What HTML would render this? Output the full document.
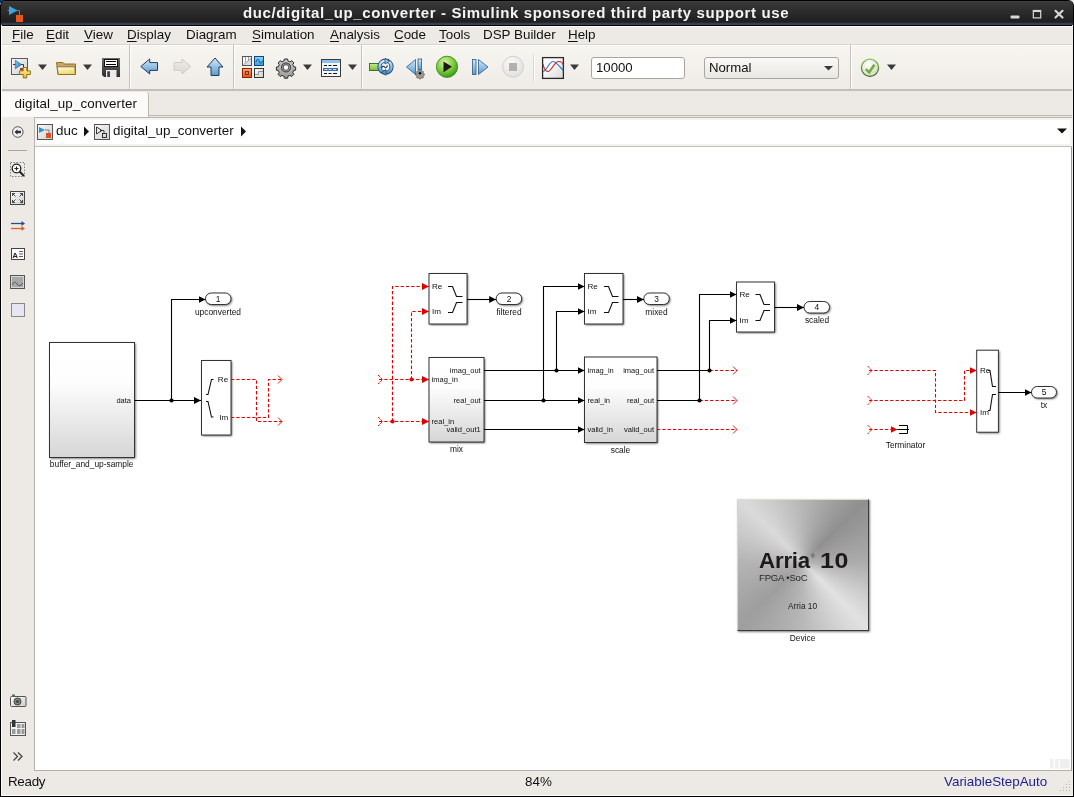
<!DOCTYPE html>
<html><head><meta charset="utf-8">
<style>
*{margin:0;padding:0;box-sizing:border-box}
html,body{width:1074px;height:797px;overflow:hidden;background:#0b0b0b;font-family:"Liberation Sans",sans-serif}
.abs{position:absolute}
#win{position:absolute;left:0;top:0;width:1074px;height:797px;background:#0b0b0b;overflow:hidden;will-change:transform}
#title{left:0;top:0;width:1074px;height:25px;background:linear-gradient(#000 0,#000 1px,#454545 1px,#383838 2px,#303030 35%,#1e1e1e 88%,#3a4a5c 96%,#33414f 100%);border-radius:6px 6px 0 0;border-right:1px solid #000;border-left:1px solid #000;color:#f4f4f4;font-weight:bold;font-size:15px;letter-spacing:0.62px;line-height:25px;white-space:nowrap}
#title span{position:absolute;left:242px;top:0}
#menubar{left:1px;top:26px;width:1071px;height:19px;background:#edeae5;font-size:13.4px;color:#111;border-top:1px solid #fbfaf8;border-bottom:1px solid #d8d5d0}
#menubar span{position:absolute;top:0px;margin-left:1px}
#menubar u{text-decoration:underline;text-underline-offset:2px;text-decoration-thickness:1px}
#toolbar{left:1px;top:45px;width:1071px;height:46px;background:linear-gradient(#f7f5f0,#efece7);border-top:1px solid #fff;border-bottom:2px solid #c2beb9}
.sep{position:absolute;top:-1px;width:2px;height:44px;background:#c4c1bc;border-right:1px solid #fff}
#tabrow{left:1px;top:91px;width:1071px;height:26px;background:#edeae5}
#tabline{left:149px;top:115px;width:923px;height:1px;background:#bcb9b4}
#tab{left:1px;top:1px;width:147px;height:25px;background:#fbfaf8;border-right:1px solid #b9b6b1;border-radius:0 3px 0 0;font-size:13.4px;color:#111;line-height:23px;padding-left:12.5px;letter-spacing:0.1px}
#crumb{left:34px;top:117px;width:1038px;height:31px;background:#fff;border-top:1px solid #b9b6b1;border-left:1px solid #b9b6b1;border-bottom:2px solid #c3c0bb;box-shadow:inset 2px 2px 0 #f4f3f0,inset -2px -2px 0 #f4f3f0;font-size:13.4px;color:#111}
#palette{left:1px;top:117px;width:33px;height:654px;background:#edeae5}
#canvas{left:34px;top:147px;width:1038px;height:624px;background:#fff;border-left:1px solid #b3b0ab;border-bottom:1px solid #b3b0ab;border-right:1px solid #9a9792}
#status{left:1px;top:771px;width:1071px;height:24px;background:#edeae5;font-size:13.4px;color:#111}
#lb{left:0;top:25px;width:1px;height:772px;background:#000;border-right:1px solid #fcfbfa;width:2px}
#rb{left:1072px;top:25px;width:2px;height:772px;background:#000;border-left:1px solid #efede9}
#bb{left:1px;top:795px;width:1072px;height:2px;background:#000;border-top:1px solid #fcfbfa}
svg{position:absolute;left:0;top:0}
svg text{font-family:"Liberation Sans",sans-serif}
#dev{left:737px;top:499px;width:132px;height:132px;box-shadow:1px 1px 2px rgba(0,0,0,0.5)}
#devin{position:absolute;left:0;top:0;width:132px;height:132px;background:radial-gradient(circle at 50% 48%,rgba(190,190,190,0.55) 0,rgba(190,190,190,0) 22px),conic-gradient(from 0deg at 50% 48%,#b6b6b6 0deg,#909090 45deg,#acacac 90deg,#e2e2e2 135deg,#b8b8b8 180deg,#9e9e9e 225deg,#b4b4b4 270deg,#dadada 315deg,#b6b6b6 360deg);border-top:1px solid #e0ddd0;border-left:1px solid #d8d5c8;border-right:1px solid #3a3a3a;border-bottom:1px solid #3a3a3a}
</style></head>
<body>
<div id="win">
  <div class="abs" style="left:0;top:0;width:7px;height:3px;background:#0a3868"></div><div class="abs" style="left:0;top:3px;width:1px;height:2px;background:#fff"></div><div class="abs" style="left:1068px;top:0;width:6px;height:6px;background:#ebebeb"></div><div id="title" class="abs"><span>duc/digital_up_converter - Simulink sponsored third party support use</span></div>
  <div id="menubar" class="abs">
    <span style="left:10px"><u>F</u>ile</span>
    <span style="left:44px"><u>E</u>dit</span>
    <span style="left:82px"><u>V</u>iew</span>
    <span style="left:125px"><u>D</u>isplay</span>
    <span style="left:184px">Diag<u>r</u>am</span>
    <span style="left:250px"><u>S</u>imulation</span>
    <span style="left:328px"><u>A</u>nalysis</span>
    <span style="left:392px"><u>C</u>ode</span>
    <span style="left:437px"><u>T</u>ools</span>
    <span style="left:481px">DSP Builder</span>
    <span style="left:566px"><u>H</u>elp</span>
  </div>
  <div id="toolbar" class="abs">
    <div class="sep" style="left:128px"></div>
    <div class="sep" style="left:232px"></div>
    <div class="sep" style="left:360px"></div>
    <div class="sep" style="left:532px;top:8px;height:28px;background:#dcd9d4"></div>
    <div class="sep" style="left:849px"></div>
  </div>
  <div id="tabrow" class="abs"><div id="tab" class="abs">digital_up_converter</div></div><div id="tabline" class="abs"></div>
  <div id="palette" class="abs"></div>
  <div id="crumb" class="abs">
    <span class="abs" style="left:21px;top:5px">duc</span>
    <span class="abs" style="left:78px;top:5px">digital_up_converter</span>
  </div>
  <div id="canvas" class="abs"></div>
  <div id="status" class="abs">
    <span class="abs" style="left:7px;top:3px;letter-spacing:-0.3px">Ready</span>
    <span class="abs" style="left:524px;top:3px">84%</span>
    <span class="abs" style="left:943px;top:3px;color:#1e1e8c">VariableStepAuto</span>
  </div>
  <div class="abs" style="left:0;top:25px;width:1074px;height:1px;background:#000"></div><div id="lb" class="abs"></div><div id="rb" class="abs"></div><div id="bb" class="abs"></div>

  <!-- ICONS / DIAGRAM OVERLAY -->
  <svg width="1074" height="797" viewBox="0 0 1074 797">
  <defs>
    <linearGradient id="gBlueArr" x1="0" y1="0" x2="0" y2="1"><stop offset="0" stop-color="#d4e8f8"/><stop offset="1" stop-color="#5a9ad0"/></linearGradient>
    <linearGradient id="gGrayArr" x1="0" y1="0" x2="0" y2="1"><stop offset="0" stop-color="#eeedeb"/><stop offset="1" stop-color="#d9d7d3"/></linearGradient>
    <linearGradient id="gFolder" x1="0" y1="0" x2="0.3" y2="1"><stop offset="0" stop-color="#fffdf0"/><stop offset="1" stop-color="#f0d868"/></linearGradient>
    <linearGradient id="gBox" x1="0" y1="0" x2="1" y2="1"><stop offset="0" stop-color="#ffffff"/><stop offset="1" stop-color="#c8c8c8"/></linearGradient>
    <radialGradient id="gRun" cx="0.4" cy="0.3" r="0.7"><stop offset="0" stop-color="#d8f5a8"/><stop offset="0.6" stop-color="#7ccb3a"/><stop offset="1" stop-color="#3f9a1e"/></radialGradient>
    <radialGradient id="gStop" cx="0.4" cy="0.3" r="0.7"><stop offset="0" stop-color="#fbfbfa"/><stop offset="1" stop-color="#e2e0dc"/></radialGradient>
    <radialGradient id="gCheck" cx="0.4" cy="0.3" r="0.7"><stop offset="0" stop-color="#ffffff"/><stop offset="1" stop-color="#d6d6d0"/></radialGradient>
    <radialGradient id="gGear" cx="0.5" cy="0.35" r="0.65"><stop offset="0" stop-color="#e8e8e8"/><stop offset="1" stop-color="#8a8a8a"/></radialGradient>
    <linearGradient id="gGreen" x1="0" y1="0" x2="0" y2="1"><stop offset="0" stop-color="#c8ea88"/><stop offset="1" stop-color="#78bc3a"/></linearGradient>
    <linearGradient id="gUpd" x1="0" y1="0" x2="0" y2="1"><stop offset="0" stop-color="#d6ecfa"/><stop offset="1" stop-color="#4f93cc"/></linearGradient>
    <linearGradient id="gCombo" x1="0" y1="0" x2="0" y2="1"><stop offset="0" stop-color="#faf9f7"/><stop offset="1" stop-color="#e9e7e3"/></linearGradient>
    <linearGradient id="gScope" x1="0.3" y1="0.3" x2="1" y2="1"><stop offset="0" stop-color="#ffffff"/><stop offset="1" stop-color="#d8d8d8"/></linearGradient>
    <linearGradient id="gRing" x1="0" y1="0" x2="0" y2="1"><stop offset="0" stop-color="#86c34a"/><stop offset="1" stop-color="#3a6a1a"/></linearGradient>
    <linearGradient id="gTri" x1="0" y1="0" x2="1" y2="1"><stop offset="0" stop-color="#7cc8f0"/><stop offset="1" stop-color="#1f78c0"/></linearGradient>
    <linearGradient id="gPlus" x1="0" y1="0" x2="0" y2="1"><stop offset="0" stop-color="#fff6b0"/><stop offset="1" stop-color="#e8b820"/></linearGradient>
    <linearGradient id="gFloppy" x1="0" y1="0" x2="0" y2="1"><stop offset="0" stop-color="#6a6a6a"/><stop offset="1" stop-color="#2e2e2e"/></linearGradient>
    <linearGradient id="gLibBlue" x1="0" y1="0" x2="0" y2="1"><stop offset="0" stop-color="#90d4f4"/><stop offset="1" stop-color="#38a0d8"/></linearGradient>
    <linearGradient id="gLibOr" x1="0" y1="0" x2="0" y2="1"><stop offset="0" stop-color="#f0a878"/><stop offset="1" stop-color="#e05414"/></linearGradient>
    <linearGradient id="gIco" x1="0" y1="0" x2="1" y2="1"><stop offset="0" stop-color="#fafafa"/><stop offset="1" stop-color="#cfcfcf"/></linearGradient>
  </defs>
  <!-- title bar app icon -->
  <path d="M7.5 10.5 H19.5 V16" stroke="#7a7a7a" stroke-width="1" fill="none"/>
  <path d="M9 6 L17.5 10.5 L9 15 Z" fill="#3aa6e0"/>
  <rect x="16" y="15" width="7" height="7" fill="#e8561c"/>
  <!-- window buttons -->
  <rect x="1010.5" y="15.5" width="9" height="3" rx="1" fill="#d8d8d8"/>
  <rect x="1033.3" y="10.5" width="7.4" height="7.4" fill="none" stroke="#d8d8d8" stroke-width="1.2"/>
  <rect x="1033" y="10" width="8" height="2" fill="#d8d8d8"/>
  <path d="M1055.5 10.8 L1062.5 17.5 M1062.5 10.8 L1055.5 17.5" stroke="#d8d8d8" stroke-width="2.2" stroke-linecap="round"/>

  <!-- new model -->
  <rect x="11.5" y="58.5" width="16" height="16" fill="url(#gIco)" stroke="#5a5a5a"/>
  <path d="M13 64.5 H23.5 V68" stroke="#222" stroke-width="0.9" fill="none"/>
  <path d="M15.3 60.2 L21.5 64.5 L15.3 68.8 Z" fill="url(#gTri)" stroke="#1a5a9a" stroke-width="0.6"/>
  <rect x="20" y="68" width="4" height="2.5" fill="#c83020"/>
  <path d="M23.2 67.5 h3.6 v3.4 h3.6 v3.6 h-3.6 v3.4 h-3.6 v-3.4 h-3.6 v-3.6 h3.6 z" fill="url(#gPlus)" stroke="#8a6a10" stroke-width="0.9"/>
  <path d="M38 64.5 h9 l-4.5 5.5 z" fill="#3a3a3a"/>
  <!-- folder -->
  <path d="M56.5 62.5 H63 L64.5 64 H75.5 V74.5 H58 Z" fill="#c8a86a" stroke="#8a6a20" stroke-width="0.9"/>
  <path d="M57.2 66.8 H74.8 L75.3 74.5 H58.2 Z" fill="url(#gFolder)" stroke="#8a6a20" stroke-width="0.9"/>
  <path d="M83 64.5 h9 l-4.5 5.5 z" fill="#3a3a3a"/>
  <!-- floppy -->
  <path d="M102 58 h18 v19 h-16 l-2 -2 z" fill="url(#gFloppy)"/>
  <rect x="104.5" y="59.5" width="13" height="7" fill="#ffffff" stroke="#111" stroke-width="1"/>
  <path d="M106 61.5 h10 M106 64.5 h10" stroke="#000" stroke-width="1"/>
  <rect x="106" y="70" width="10.5" height="7" fill="#ececec"/>
  <rect x="107.3" y="71.3" width="2.6" height="5.7" fill="#3a3a3a"/>
  <!-- back / fwd / up -->
  <path d="M140.8 66.5 L149.7 59 V62.6 H157.5 V70.4 H149.7 V74 Z" fill="url(#gBlueArr)" stroke="#1f3a5c" stroke-width="1" stroke-linejoin="miter"/>
  <path d="M190.8 66.5 L181.9 59 V62.6 H174 V70.4 H181.9 V74 Z" fill="url(#gGrayArr)" stroke="#cfccc8" stroke-width="1"/>
  <path d="M215 58 L223 67 H219 V75.5 H211 V67 H207 Z" fill="url(#gBlueArr)" stroke="#1f3a5c" stroke-width="1"/>
  <!-- library browser -->
  <rect x="242.5" y="56.5" width="9" height="9" fill="#fbfbfb" stroke="#555"/>
  <path d="M243 65 L251 58.5 V65 Z" fill="#d4dee8"/>
  <path d="M243.5 64.5 L251 58.5" stroke="#888" stroke-width="0.8"/>
  <path d="M245.5 57 V62 M248.5 57 V60" stroke="#888" stroke-width="0.8"/>
  <rect x="242.5" y="56.5" width="9" height="9" fill="none" stroke="#555"/>
  <rect x="254.5" y="56.5" width="9" height="9" fill="url(#gLibBlue)" stroke="#0a4a8a"/>
  <path d="M256 62 C257 58.5, 258.5 58.5, 259.2 61 S261.5 64.5, 262.8 60.5" stroke="#0a4a8a" stroke-width="1" fill="none"/>
  <rect x="242.5" y="68.5" width="9" height="9" fill="url(#gLibOr)" stroke="#8a2000"/>
  <rect x="245.5" y="71.5" width="3" height="3" fill="#f07838" stroke="#8a3010" stroke-width="1"/>
  <rect x="254.5" y="68.5" width="9" height="9" fill="url(#gIco)" stroke="#333"/>
  <path d="M255 74.5 H258.5 V71.5 H263" stroke="#888" stroke-width="0.9" fill="none"/>
  <!-- gear -->
  <g transform="translate(286 67.4) scale(0.86)">
    <path d="M-1.8 -9.8 h3.6 l0.6 2.4 l2.2 0.9 l2.1 -1.3 l2.5 2.5 l-1.3 2.1 l0.9 2.2 l2.4 0.6 v3.6 l-2.4 0.6 l-0.9 2.2 l1.3 2.1 l-2.5 2.5 l-2.1 -1.3 l-2.2 0.9 l-0.6 2.4 h-3.6 l-0.6 -2.4 l-2.2 -0.9 l-2.1 1.3 l-2.5 -2.5 l1.3 -2.1 l-0.9 -2.2 l-2.4 -0.6 v-3.6 l2.4 -0.6 l0.9 -2.2 l-1.3 -2.1 l2.5 -2.5 l2.1 1.3 l2.2 -0.9 z" fill="url(#gGear)" stroke="#2a2a2a" stroke-width="1.1"/>
    <circle r="6" fill="#4a4a4a"/>
    <circle r="4.6" fill="#9a9a9a"/>
    <circle r="3.6" fill="#5a5a5a"/>
    <circle r="2.6" fill="#fff"/>
  </g>
  <path d="M303 64.5 h9 l-4.5 5.5 z" fill="#3a3a3a"/>
  <!-- model explorer -->
  <rect x="321.5" y="59.5" width="19" height="17" fill="#f6f6f6" stroke="#3a3a3a"/>
  <rect x="322" y="60" width="18" height="3" fill="#8ec0ea"/>
  <path d="M324 65.5 h3 M328.5 65.5 h3 M333 65.5 h4 M324 73.5 h3 M328.5 73.5 h3 M333 73.5 h4" stroke="#111" stroke-width="1.2"/>
  <rect x="323" y="68" width="15" height="3" fill="#3a6fb0"/>
  <path d="M324.5 69.5 h3 M328.5 69.5 h3 M333 69.5 h3" stroke="#dfeeff" stroke-width="0.9"/>
  <path d="M348 64.5 h9 l-4.5 5.5 z" fill="#3a3a3a"/>
  <!-- update diagram -->
  <rect x="369.5" y="63.5" width="9" height="7" fill="url(#gGreen)" stroke="#2f6a14" stroke-width="0.9"/>
  <circle cx="385.5" cy="66.7" r="6" fill="none" stroke="#1e4a78" stroke-width="4.2"/>
  <circle cx="385.5" cy="66.7" r="6" fill="none" stroke="url(#gUpd)" stroke-width="2.4"/>
  <path d="M385 58.5 L389.5 61.2 L385 64 Z" fill="#9cc8ec" stroke="#1e4a78" stroke-width="0.8"/>
  <path d="M386 75.2 L381.5 72.4 L386 69.6 Z" fill="#5a9ad0" stroke="#1e4a78" stroke-width="0.8"/>
  <path d="M381.5 68 q1.5 -3 3 -1 q1.5 2 3 -1.5" stroke="#122e4e" stroke-width="1.1" fill="none"/>
  <!-- step back -->
  <path d="M406.5 67 L415.5 59.5 V74.5 Z" fill="url(#gBlueArr)" stroke="#2a5a8a" stroke-width="0.8"/>
  <rect x="418" y="59" width="3.6" height="11" fill="url(#gBlueArr)" stroke="#2a5a8a" stroke-width="0.8"/>
  <g transform="translate(420 73.3) scale(0.68)"><path d="M-1 -4.6 h2 l0.4 1.3 l1.2 0.6 l1.3 -0.7 l1.4 1.4 l-0.7 1.3 l0.5 1.2 l1.3 0.4 v2 l-1.3 0.4 l-0.5 1.2 l0.7 1.3 l-1.4 1.4 l-1.3 -0.7 l-1.2 0.5 l-0.4 1.3 h-2 l-0.4 -1.3 l-1.2 -0.5 l-1.3 0.7 l-1.4 -1.4 l0.7 -1.3 l-0.5 -1.2 l-1.3 -0.4 v-2 l1.3 -0.4 l0.5 -1.2 l-0.7 -1.3 l1.4 -1.4 l1.3 0.7 l1.2 -0.6 z" fill="#9a9a9a" stroke="#333" stroke-width="0.7"/><circle r="1.9" fill="#111"/></g>
  <!-- run -->
  <circle cx="447" cy="66.8" r="10.6" fill="url(#gRun)" stroke="#3a8a1a" stroke-width="0.9"/>
  <path d="M443.5 61.5 L452 66.8 L443.5 72.2 Z" fill="#1a1a1a"/>
  <!-- step fwd -->
  <rect x="472.5" y="59.5" width="3.5" height="15" fill="url(#gBlueArr)" stroke="#2a5a8a" stroke-width="0.8"/>
  <path d="M478.5 59.5 L488 67 L478.5 74.5 Z" fill="url(#gBlueArr)" stroke="#2a5a8a" stroke-width="0.8"/>
  <!-- stop -->
  <circle cx="513" cy="66.8" r="10.5" fill="url(#gStop)" stroke="#cfcdc9" stroke-width="0.9"/>
  <rect x="509" y="63" width="8" height="8" fill="#b3b1ad"/>
  <!-- scope -->
  <rect x="542.6" y="57.6" width="20.8" height="20.8" fill="url(#gScope)" stroke="#2a2a2a" stroke-width="1.3"/>
  <path d="M543 71.5 C546.5 71.5, 549 61.5, 553 61.5 C556 61.5, 560 67, 563.2 70.5" stroke="#2f7ccc" stroke-width="1.2" fill="none"/>
  <path d="M543 64 C544 69, 546 71.5, 548 71.5 C551.5 71.5, 554 61.5, 558.5 61.5 C561 61.5, 563 63, 563.2 65.5" stroke="#c42a2a" stroke-width="1.2" fill="none"/>
  <path d="M570 64.5 h9 l-4.5 5.5 z" fill="#3a3a3a"/>
  <!-- stop time box -->
  <rect x="591.5" y="57.5" width="93" height="21" rx="2.5" fill="#fff" stroke="#a8a5a0"/>
  <text x="596" y="72.3" font-size="13.2" fill="#111">10000</text>
  <!-- mode combo -->
  <rect x="704.5" y="57.5" width="134" height="21" rx="2.5" fill="url(#gCombo)" stroke="#aaa7a2"/>
  <text x="709" y="72.3" font-size="13.2" fill="#111">Normal</text>
  <path d="M824 66 h9 l-4.5 4.5 z" fill="#3a3a3a"/>
  <!-- check -->
  <circle cx="870" cy="67.8" r="8.6" fill="url(#gCheck)" stroke="url(#gRing)" stroke-width="1.3"/>
  <path d="M865.8 69.2 L869.2 72.3 L874.4 64.8" stroke="#6eae30" stroke-width="2.5" fill="none"/>
  <path d="M887 64.5 h9 l-4.5 5.5 z" fill="#3a3a3a"/>

  <!-- breadcrumb -->
  <circle cx="17.8" cy="132" r="5.3" fill="#f4f4f4" stroke="#555" stroke-width="1"/>
  <path d="M14.5 132 L17.5 129.3 V130.8 H21 V133.2 H17.5 V134.7 Z" fill="#333"/>
  <rect x="37.5" y="124.5" width="15" height="15" fill="url(#gIco)" stroke="#555"/>
  <path d="M39 127 L45 130 L39 133 Z" fill="#2f8fd0"/>
  <path d="M45 130 H49 V134" stroke="#555" stroke-width="0.7" fill="none"/>
  <rect x="46" y="133" width="5" height="5" fill="#e0501e"/>
  <path d="M84 126.5 L89 131.5 L84 136.5 Z" fill="#111"/>
  <rect x="94.5" y="124.5" width="15" height="15" fill="url(#gIco)" stroke="#555"/>
  <path d="M96.5 127 L102 130.5 L96.5 134 Z" fill="none" stroke="#222" stroke-width="0.9"/>
  <path d="M100 130.5 H104 V133" stroke="#222" stroke-width="0.8" fill="none"/>
  <rect x="102.5" y="133.5" width="4" height="4" fill="none" stroke="#222" stroke-width="0.9"/>
  <path d="M241 126.5 L246 131.5 L241 136.5 Z" fill="#111"/>
  <path d="M1057 128.5 h10 l-5 5 z" fill="#111"/>

  <!-- palette -->
  <path d="M8 150.5 H27" stroke="#a8a5a0" stroke-width="1"/>
  <rect x="10.5" y="162.5" width="14" height="14" fill="none" stroke="#666" stroke-width="0.8" stroke-dasharray="1.5 1.5"/>
  <circle cx="16.5" cy="168.5" r="4.3" fill="#fff" stroke="#222" stroke-width="1.3"/>
  <path d="M14.5 168.5 h4 M16.5 166.5 v4" stroke="#222" stroke-width="1.1"/>
  <path d="M19.5 171.5 L24 176" stroke="#222" stroke-width="2"/>
  <rect x="10.5" y="191.5" width="14" height="13" fill="url(#gIco)" stroke="#444"/>
  <path d="M12.5 193.5 l3 3 M12.5 193.5 h2.5 M12.5 193.5 v2.5 M22.5 193.5 l-3 3 M22.5 193.5 h-2.5 M22.5 193.5 v2.5 M12.5 202.5 l3 -3 M12.5 202.5 h2.5 M12.5 202.5 v-2.5 M22.5 202.5 l-3 -3 M22.5 202.5 h-2.5 M22.5 202.5 v-2.5" stroke="#333" stroke-width="0.9"/>
  <path d="M11 223.5 H23" stroke="#2a4a8a" stroke-width="1.3"/>
  <path d="M21.5 221 L25 223.5 L21.5 226 Z" fill="#2a4a8a"/>
  <path d="M11 228.5 H23" stroke="#d8602a" stroke-width="1.3"/>
  <path d="M21.5 226 L25 228.5 L21.5 231 Z" fill="#d8602a"/>
  <rect x="11.5" y="248.5" width="13" height="11" fill="#fff" stroke="#444"/>
  <text x="12.3" y="257.7" font-size="8" font-weight="bold" fill="#222">A</text>
  <path d="M19 251.5 h4 M19 254 h4 M19 256.5 h4" stroke="#333" stroke-width="0.8"/>
  <rect x="10.5" y="275.5" width="14" height="13" fill="#d6d6d6" stroke="#555"/>
  <rect x="12" y="277" width="11" height="10" fill="#a8a8a8"/>
  <path d="M12 285 q2.5 -5 5 -1 q2.5 4 6 -1" stroke="#555" stroke-width="1" fill="none"/>
  <rect x="11.5" y="303.5" width="13" height="13" fill="#e6e6f2" stroke="#888"/>
  <!-- camera -->
  <rect x="10.5" y="696.5" width="15.5" height="10" rx="1" fill="url(#gIco)" stroke="#555"/>
  <rect x="12" y="694.5" width="3" height="2" fill="#666"/>
  <circle cx="17.5" cy="701.5" r="3.5" fill="#888" stroke="#333" stroke-width="0.9"/>
  <circle cx="17.5" cy="701.5" r="1.6" fill="#444"/>
  <!-- model browser -->
  <rect x="10.5" y="722.5" width="15" height="13" fill="#f2f2f2" stroke="#555"/>
  <rect x="12" y="720" width="3.5" height="7" fill="#333"/>
  <rect x="17" y="724" width="3.5" height="4" fill="#9a9a9a"/>
  <rect x="21.5" y="724" width="3" height="4" fill="#9a9a9a"/>
  <rect x="12" y="729" width="3.5" height="5" fill="#9a9a9a"/>
  <rect x="17" y="729" width="3.5" height="5" fill="#9a9a9a"/>
  <rect x="21.5" y="729" width="3" height="5" fill="#9a9a9a"/>
  <!-- chevrons -->
  <path d="M13.5 752.5 l4 4 l-4 4 M18 752.5 l4 4 l-4 4" stroke="#444" stroke-width="1.3" fill="none"/>
  <!-- canvas bottom-right marks -->
  <rect x="1050" y="759" width="3.6" height="9.6" fill="#efefef"/>
  <rect x="1055" y="759" width="3.6" height="9.6" fill="#efefef"/>
  <rect x="1060" y="759" width="9.7" height="9.6" fill="#efefef"/>
  <!-- resize grip -->
  <g fill="#b8b5b0">
    <rect x="1069" y="781" width="1" height="1"/>
    <rect x="1066" y="784" width="1" height="1"/><rect x="1069" y="784" width="1" height="1"/>
    <rect x="1063" y="787" width="1" height="1"/><rect x="1066" y="787" width="1" height="1"/><rect x="1069" y="787" width="1" height="1"/>
    <rect x="1060" y="790" width="1" height="1"/><rect x="1063" y="790" width="1" height="1"/><rect x="1066" y="790" width="1" height="1"/><rect x="1069" y="790" width="1" height="1"/>
  </g>
  <defs>
    <linearGradient id="gBlk" x1="0" y1="0" x2="0" y2="1"><stop offset="0" stop-color="#ffffff"/><stop offset="0.35" stop-color="#fdfdfd"/><stop offset="1" stop-color="#d6d6d6"/></linearGradient>
    <filter id="shd" x="-20%" y="-20%" width="140%" height="140%"><feGaussianBlur stdDeviation="1"/></filter>
    <marker id="ab" viewBox="0 0 8 8" refX="8" refY="4" markerWidth="7" markerHeight="7" markerUnits="userSpaceOnUse" orient="auto"><path d="M0 0 L8 4 L0 8 Z" fill="#000"/></marker>
    <marker id="ar" viewBox="0 0 8 8" refX="8" refY="4" markerWidth="7" markerHeight="7" markerUnits="userSpaceOnUse" orient="auto"><path d="M0 0 L8 4 L0 8 Z" fill="#e00000"/></marker>
    <marker id="ao" viewBox="0 0 8 8" refX="7.5" refY="4" markerWidth="6.5" markerHeight="6.5" markerUnits="userSpaceOnUse" orient="auto"><path d="M1 0.5 L7.5 4 L1 7.5" fill="none" stroke="#e00000" stroke-width="1.1"/></marker>
  </defs>
  <g font-size="7.5" fill="#111">
  <!-- shadows -->
  <g fill="#3a3a3a" filter="url(#shd)" opacity="0.85">
    <rect x="50.5" y="343.5" width="85" height="115"/>
    <rect x="202.5" y="361.5" width="29.5" height="74.5"/>
    <rect x="430" y="274.5" width="38" height="50.5"/>
    <rect x="430" y="358.5" width="55" height="84.5"/>
    <rect x="585.5" y="274.5" width="38.5" height="50.5"/>
    <rect x="585.5" y="358" width="72.5" height="85.5"/>
    <rect x="737.5" y="283" width="38" height="50"/>
    <rect x="977.7" y="351.2" width="21.7" height="82"/>
    <rect x="206.5" y="294" width="25.5" height="11.5" rx="5.75"/>
    <rect x="497.2" y="294" width="25.5" height="11.5" rx="5.75"/>
    <rect x="644.8" y="294" width="25.5" height="11.5" rx="5.75"/>
    <rect x="805" y="302.5" width="25.5" height="11.5" rx="5.75"/>
    <rect x="1032.5" y="387.5" width="25" height="11.5" rx="5.75"/>
  </g>
  <!-- blocks -->
  <rect x="49.5" y="342.5" width="85" height="115" fill="url(#gBlk)" stroke="#333" stroke-width="1"/>
  <rect x="201.5" y="360.5" width="29.5" height="74.5" fill="#fff" stroke="#333"/>
  <rect x="429" y="273.5" width="38" height="50.5" fill="#fff" stroke="#333"/>
  <rect x="429" y="357.5" width="55" height="84.5" fill="url(#gBlk)" stroke="#333"/>
  <rect x="584.5" y="273.5" width="38.5" height="50.5" fill="#fff" stroke="#333"/>
  <rect x="584.5" y="357" width="72.5" height="85.5" fill="url(#gBlk)" stroke="#333"/>
  <rect x="736.5" y="282" width="38" height="50" fill="#fff" stroke="#333"/>
  <rect x="976.7" y="350.2" width="21.7" height="82" fill="#fff" stroke="#333"/>
  <!-- outports -->
  <rect x="205.5" y="293" width="25.5" height="11.5" rx="5.75" fill="#fff" stroke="#333"/>
  <rect x="496.2" y="293" width="25.5" height="11.5" rx="5.75" fill="#fff" stroke="#333"/>
  <rect x="643.8" y="293" width="25.5" height="11.5" rx="5.75" fill="#fff" stroke="#333"/>
  <rect x="804" y="301.5" width="25.5" height="11.5" rx="5.75" fill="#fff" stroke="#333"/>
  <rect x="1031.5" y="386.5" width="25" height="11.5" rx="5.75" fill="#fff" stroke="#333"/>
  <g font-size="8.4" text-anchor="middle">
    <text x="218.2" y="301.8">1</text>
    <text x="509" y="301.8">2</text>
    <text x="656.5" y="301.8">3</text>
    <text x="816.8" y="309.8">4</text>
    <text x="1044" y="395.3">5</text>
    <text x="218" y="315">upconverted</text>
    <text x="509" y="315">filtered</text>
    <text x="656.5" y="315">mixed</text>
    <text x="817" y="323">scaled</text>
    <text x="1044" y="408.3">tx</text>
    <text x="91.7" y="467">buffer_and_up-sample</text>
    <text x="456.5" y="452">mix</text>
    <text x="620.5" y="453">scale</text>
    <text x="905.5" y="448">Terminator</text>
    <text x="802.5" y="641">Device</text>
  </g>
  <!-- port labels -->
  <g text-anchor="end">
    <text x="131" y="403.2">data</text>
    <text x="228.2" y="381.8" font-size="8.1">Re</text>
    <text x="228.2" y="420" font-size="8.1">Im</text>
    <text x="480.7" y="373">imag_out</text>
    <text x="480.7" y="403">real_out</text>
    <text x="480.7" y="432.3">valid_out1</text>
    <text x="654" y="373.2">imag_out</text>
    <text x="654" y="402.6">real_out</text>
    <text x="654" y="432">valid_out</text>
  </g>
  <text x="432" y="289" font-size="8.1">Re</text>
  <text x="432" y="314" font-size="8.1">Im</text>
  <text x="431.6" y="381.6">imag_in</text>
  <text x="431.6" y="424">real_in</text>
  <text x="587.5" y="288.8" font-size="8.1">Re</text>
  <text x="587.5" y="314.3" font-size="8.1">Im</text>
  <text x="587.5" y="373.2">imag_in</text>
  <text x="587.5" y="402.6">real_in</text>
  <text x="587.5" y="432">valid_in</text>
  <text x="739.5" y="297.1" font-size="8.1">Re</text>
  <text x="739.5" y="322.7" font-size="8.1">Im</text>
  <text x="980" y="372.9" font-size="8.1">Re</text>
  <text x="980" y="415.3" font-size="8.1">Im</text>
  </g>
  <!-- braces -->
  <g fill="none" stroke="#111" stroke-width="1.1">
    <path d="M213.5 379.5 H211.5 L208 394.5 H206 M206 401.5 H208 L211.5 417 H213.5"/>
    <path d="M448 286.5 H452.5 L456.5 296.5 H462.5 M462.5 302.5 H456.5 L452.5 312.5 H448"/>
    <path d="M604 286.5 H608.5 L612.5 296.5 H618.5 M618.5 302.5 H612.5 L608.5 312.5 H604"/>
    <path d="M755.5 294.5 H760 L764 304.5 H770 M770 310.5 H764 L760 320.5 H755.5"/>
    <path d="M988 370.5 H990 L992.5 386.5 H996 M996 394.5 H992.5 L990 410.5 H988"/>
  </g>
  <!-- black lines -->
  <g fill="none" stroke="#000" stroke-width="1.1">
    <path d="M134.5 400.5 H201" marker-end="url(#ab)"/>
    <path d="M171.5 400.5 V299.5 H205.5" marker-end="url(#ab)"/>
    <path d="M467 299.5 H496.2" marker-end="url(#ab)"/>
    <path d="M484 370.5 H584.5" marker-end="url(#ab)"/>
    <path d="M484 400.5 H584.5" marker-end="url(#ab)"/>
    <path d="M484 429.5 H584.5" marker-end="url(#ab)"/>
    <path d="M556.5 370.5 V311.5 H584.5" marker-end="url(#ab)"/>
    <path d="M543.5 400.5 V286.5 H584.5" marker-end="url(#ab)"/>
    <path d="M623 299.5 H643.8" marker-end="url(#ab)"/>
    <path d="M657 370.5 H709.5"/>
    <path d="M657 400.5 H699.5"/>
    <path d="M709.5 370.5 V320.5 H736.5" marker-end="url(#ab)"/>
    <path d="M699.5 400.5 V294.5 H736.5" marker-end="url(#ab)"/>
    <path d="M774.5 307.5 H804" marker-end="url(#ab)"/>
    <path d="M998.4 392.5 H1031.5" marker-end="url(#ab)"/>
  </g>
  <!-- red dashed -->
  <g fill="none" stroke="#e60000" stroke-width="1.1" stroke-dasharray="3.3 2">
    <path d="M231 379.5 H256.5 V421.5 H282"/>
    <path d="M231 417.5 H268.5 V379.5 H282"/>
    <path d="M379 379.5 H429" marker-end="url(#ar)"/>
    <path d="M379 421.5 H429" marker-end="url(#ar)"/>
    <path d="M411.5 379.5 V311.5 H429" marker-end="url(#ar)"/>
    <path d="M392.5 421.5 V286.5 H429" marker-end="url(#ar)"/>
    <path d="M709.5 370.5 H737"/>
    <path d="M699.5 400.5 H737"/>
    <path d="M657 429.5 H737"/>
    <path d="M869 370.5 H935.5 V412.5 H976.7" marker-end="url(#ar)"/>
    <path d="M869 400.5 H964.5 V370.5 H976.7" marker-end="url(#ar)"/>
    <path d="M869 429.5 H897.5" marker-end="url(#ar)"/>
  </g>
  <g fill="none" stroke="#e60000" stroke-width="0.9">
    <path d="M278 375.5 L282 379.5 L278 383.5"/>
    <path d="M278 417.5 L282 421.5 L278 425.5"/>
    <path d="M733 366.5 L737 370.5 L733 374.5"/>
    <path d="M733 396.5 L737 400.5 L733 404.5"/>
    <path d="M733 425.5 L737 429.5 L733 433.5"/>
  </g>
  <g fill="#e60000">
    <circle cx="411.5" cy="379.5" r="2.1"/>
    <circle cx="392.5" cy="421.5" r="2.1"/>
  </g>
  <g fill="#000">
    <circle cx="171.5" cy="400.5" r="2.1"/>
    <circle cx="556.5" cy="370.5" r="2.1"/>
    <circle cx="543.5" cy="400.5" r="2.1"/>
    <circle cx="709.5" cy="370.5" r="2.1"/>
    <circle cx="699.5" cy="400.5" r="2.1"/>
  </g>
  <!-- inbound tails -->
  <g fill="none" stroke="#e60000" stroke-width="0.9" stroke-dasharray="2.6 0.9">
    <path d="M378 375 L382.5 379.5 L378 384"/>
    <path d="M378 417 L382.5 421.5 L378 426"/>
    <path d="M867.5 366 L872 370.5 L867.5 375"/>
    <path d="M867.5 396 L872 400.5 L867.5 405"/>
    <path d="M867.5 425 L872 429.5 L867.5 434"/>
  </g>
  <!-- terminator -->
  <path d="M899 425.5 H907.5 V433.5 H899 M897 429.5 H909" fill="none" stroke="#000" stroke-width="1"/>

  <!-- Device block -->
  </svg>
  <div id="dev" class="abs"><div id="devin"></div>
    <span class="abs" style="left:22px;top:48.5px;font-size:22.3px;font-weight:bold;color:#1d1a1a;letter-spacing:-0.2px">Arria</span>
    <span class="abs" style="left:74px;top:54px;font-size:5px;color:#333">&#174;</span>
    <span class="abs" style="left:83px;top:48.5px;font-size:22.3px;font-weight:bold;color:#1d1a1a;letter-spacing:0.6px;transform:scaleX(1.12);transform-origin:0 0">10</span>
    <span class="abs" style="left:22px;top:73px;font-size:9.6px;color:#2a2828;letter-spacing:-0.2px">FPGA &#8226;SoC</span>
    <span class="abs" style="left:51px;top:101.5px;font-size:8.3px;color:#1d1a1a">Arria 10</span>
  </div>
</div>
</body></html>
